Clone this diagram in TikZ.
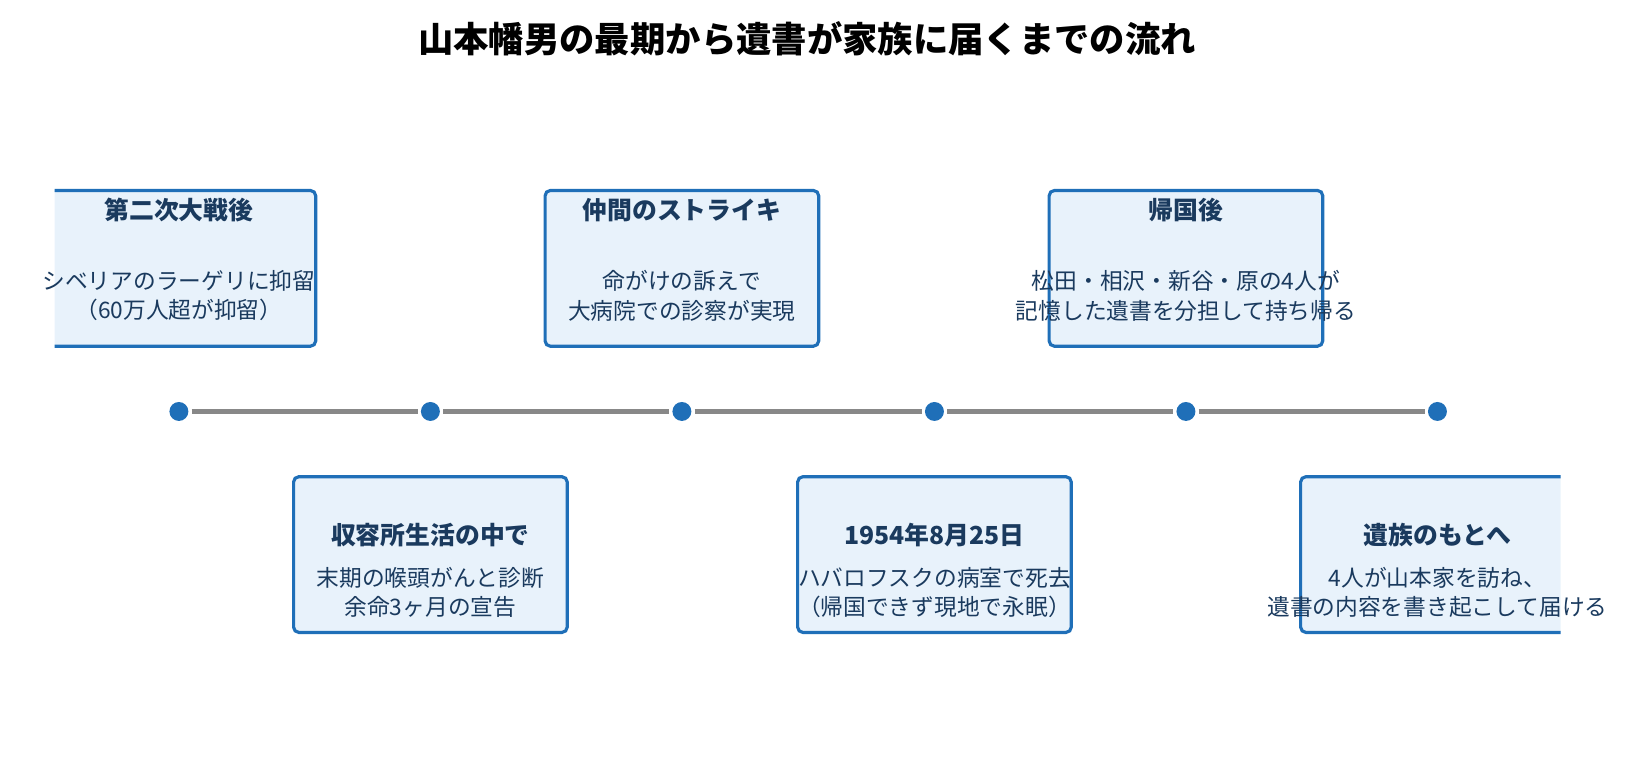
\documentclass[tikz,border=0pt]{standalone}
\usepackage{fontspec}
\setmainfont{Noto Sans CJK JP}
\usetikzlibrary{positioning}
\definecolor{boxblue}{HTML}{1F6FB8}
\definecolor{boxfill}{HTML}{E8F2FB}
\definecolor{navy}{HTML}{1A3A5E}
\definecolor{linegray}{HTML}{888888}
\tikzstyle{box} = [rectangle, rounded corners=2.5pt, minimum width=130pt, minimum height=74pt, draw=boxblue, fill=boxfill, line width=1.5pt]
\tikzstyle{dot} = [circle, fill=boxblue, minimum size=9pt, inner sep=0pt, outer sep=1.5pt]
\tikzstyle{tline} = [linegray, line width=2pt]
\tikzstyle{head} = [text=navy, font=\fontsize{11.8pt}{14pt}\selectfont\bfseries]
\tikzstyle{body} = [text=navy, align=center, font=\fontsize{10.8pt}{14pt}\selectfont]

\begin{document}
\begin{tikzpicture}[x=0.5pt, y=-0.5pt]
        \useasboundingbox (0,0) rectangle (1568,741);
        \node (title) at (767,37) {\fontsize{16.8pt}{20pt}\selectfont\bfseries 山本幡男の最期から遺書が家族に届くまでの流れ};
        % timeline
        \node (d1) [dot] at (170,391) {};
        \node (d2) [dot] at (409,391) {};
        \node (d3) [dot] at (648,391) {};
        \node (d4) [dot] at (888,391) {};
        \node (d5) [dot] at (1127,391) {};
        \node (d6) [dot] at (1366,391) {};
        \foreach \a/\b in {d1/d2,d2/d3,d3/d4,d4/d5,d5/d6}
            \draw [tline] (\a) -- (\b);
        % boxes, cut off at the sides
        \begin{scope}
            \clip (52,0) rectangle (1483,741);
            \node (b1) [box] at (170,255) {};
            \node (b2) [box] at (409,527) {};
            \node (b3) [box] at (648,255) {};
            \node (b4) [box] at (888,527) {};
            \node (b5) [box] at (1127,255) {};
            \node (b6) [box] at (1366,527) {};
        \end{scope}
        \node (h1) [head] at (170,200) {第二次大戦後};
        \node (t1) [body] at (170,281) {シベリアのラーゲリに抑留\\（60万人超が抑留）};
        \node (h2) [head] at (409,508) {収容所生活の中で};
        \node (t2) [body] at (409,563) {末期の喉頭がんと診断\\余命3ヶ月の宣告};
        \node (h3) [head] at (648,200) {仲間のストライキ};
        \node (t3) [body] at (648,281) {命がけの訴えで\\大病院での診察が実現};
        \node (h4) [head] at (888,508) {1954年8月25日};
        \node (t4) [body] at (888,563) {ハバロフスクの病室で死去\\（帰国できず現地で永眠）};
        \node (h5) [head] at (1127,200) {帰国後};
        \node (t5) [body] at (1127,281) {松田・相沢・新谷・原の4人が\\記憶した遺書を分担して持ち帰る};
        \node (h6) [head] at (1366,508) {遺族のもとへ};
        \node (t6) [body] at (1366,563) {4人が山本家を訪ね、\\遺書の内容を書き起こして届ける};
    \end{tikzpicture}
\end{document}
